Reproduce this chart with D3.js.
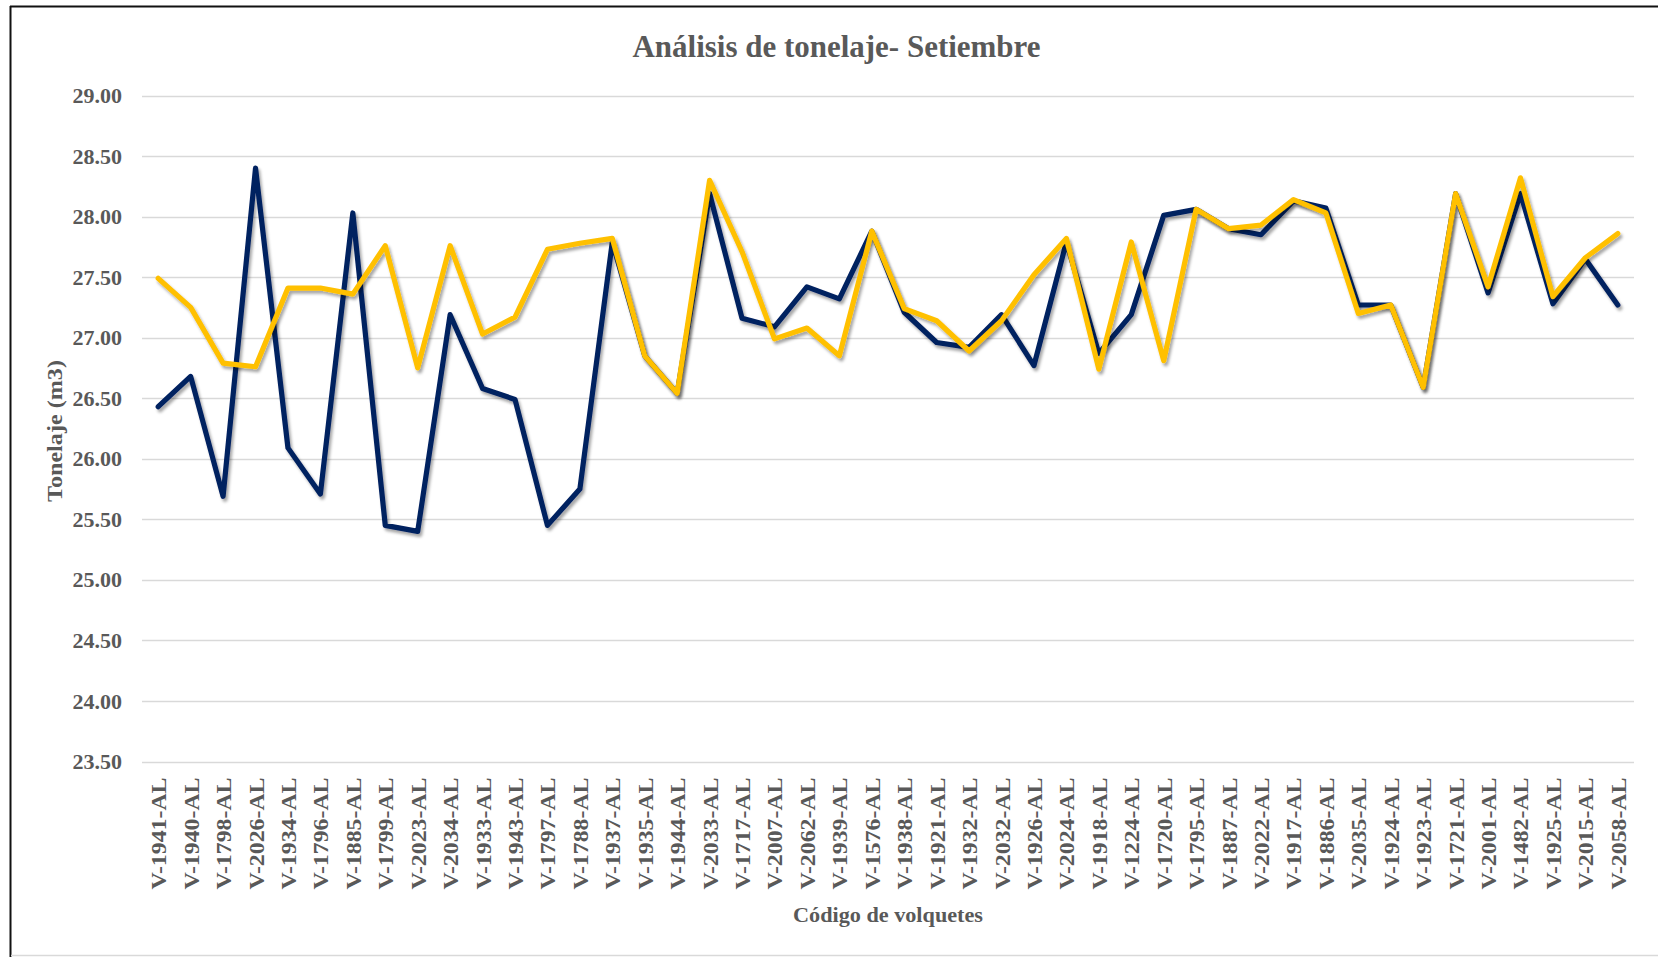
<!DOCTYPE html>
<html>
	<head>
		<meta charset="utf-8">
		<title>Análisis de tonelaje- Setiembre</title>
		<script src="https://d3js.org/d3.v7.min.js" charset="utf-8"></script>
		<style>
			body { margin: 0; background: #fff; }
			svg { display: block; }
			.txt {
				font-family: "Liberation Serif", "Times New Roman", serif;
				font-weight: bold;
				fill: #595959;
			}
			.grid line { stroke: #d9d9d9; stroke-width: 1.4px; }
			.serie { fill: none; stroke-width: 5.2px; stroke-linejoin: round; stroke-linecap: round; }
		</style>
	</head>
	<body>
		<div id="box"></div>
		<script>
			var codigos = ["V-1941-AL","V-1940-AL","V-1798-AL","V-2026-AL","V-1934-AL","V-1796-AL","V-1885-AL","V-1799-AL","V-2023-AL","V-2034-AL",
				"V-1933-AL","V-1943-AL","V-1797-AL","V-1788-AL","V-1937-AL","V-1935-AL","V-1944-AL","V-2033-AL","V-1717-AL","V-2007-AL",
				"V-2062-AL","V-1939-AL","V-1576-AL","V-1938-AL","V-1921-AL","V-1932-AL","V-2032-AL","V-1926-AL","V-2024-AL","V-1918-AL",
				"V-1224-AL","V-1720-AL","V-1795-AL","V-1887-AL","V-2022-AL","V-1917-AL","V-1886-AL","V-2035-AL","V-1924-AL","V-1923-AL",
				"V-1721-AL","V-2001-AL","V-1482-AL","V-1925-AL","V-2015-AL","V-2058-AL"];

			// serie azul
			var serieAzul = [26.43,26.68,25.69,28.40,26.09,25.71,28.03,25.45,25.40,27.19,
				26.58,26.49,25.45,25.75,27.79,26.85,26.54,28.19,27.16,27.09,
				27.42,27.32,27.88,27.21,26.96,26.92,27.19,26.77,27.79,26.87,
				27.19,28.01,28.06,27.90,27.85,28.13,28.07,27.27,27.27,26.59,
				28.19,27.37,28.19,27.28,27.65,27.27];

			// serie amarilla
			var serieAmarilla = [27.49,27.25,26.79,26.76,27.41,27.41,27.36,27.76,26.75,27.76,
				27.03,27.17,27.73,27.78,27.82,26.85,26.54,28.30,27.71,26.99,
				27.08,26.85,27.88,27.24,27.14,26.89,27.14,27.52,27.82,26.74,
				27.79,26.81,28.06,27.90,27.93,28.14,28.03,27.20,27.27,26.59,
				28.19,27.42,28.32,27.34,27.66,27.86];

			var ticksY = [23.5,24,24.5,25,25.5,26,26.5,27,27.5,28,28.5,29];

			var W = 1658, H = 957;
			var svg = d3.select('#box').append('svg').attr('width', W).attr('height', H);
			svg.append('rect').attr('width', W).attr('height', H).attr('fill', '#fff');

			// sombra de las lineas
			var defs = svg.append('defs');
			defs.append('filter').attr('id', 'sombra')
				.attr('x', '-5%').attr('y', '-5%').attr('width', '110%').attr('height', '110%')
				.append('feDropShadow')
				.attr('dx', 2).attr('dy', 3).attr('stdDeviation', 1.6)
				.attr('flood-color', '#000').attr('flood-opacity', 0.35);

			// marco
			svg.append('line').attr('x1', 10).attr('x2', W).attr('y1', 6.5).attr('y2', 6.5).attr('stroke', '#111').attr('stroke-width', 2);
			svg.append('line').attr('x1', 10.5).attr('x2', 10.5).attr('y1', 6).attr('y2', H).attr('stroke', '#111').attr('stroke-width', 2);
			svg.append('line').attr('x1', 11).attr('x2', W).attr('y1', 955.5).attr('y2', 955.5).attr('stroke', '#d9d9d9').attr('stroke-width', 1.5);

			var x = d3.scalePoint().domain(codigos).range([142, 1634]).padding(0.5);
			var y = d3.scaleLinear().domain([23.5, 29]).range([761.5, 95.5]);

			// lineas de cuadricula
			svg.append('g').attr('class', 'grid').selectAll('line')
				.data(ticksY).enter().append('line')
				.attr('x1', 142).attr('x2', 1634)
				.attr('y1', d => Math.round(y(d)) + 0.5).attr('y2', d => Math.round(y(d)) + 0.5);

			// eje y
			var ejeY = svg.append('g').attr('transform', 'translate(142,0)')
				.call(d3.axisLeft(y).tickValues(ticksY).tickFormat(d3.format('.2f')).tickSize(0).tickPadding(20));
			ejeY.select('.domain').remove();
			ejeY.selectAll('text').attr('class', 'txt').attr('font-size', 22).attr('fill', null);

			// eje x
			var ejeX = svg.append('g').attr('transform', 'translate(0,761.5)')
				.call(d3.axisBottom(x).tickSize(0));
			ejeX.select('.domain').remove();
			ejeX.selectAll('text')
				.attr('class', 'txt').attr('font-size', 22).attr('fill', null)
				.attr('text-anchor', 'end')
				.attr('textLength', 112).attr('lengthAdjust', 'spacingAndGlyphs')
				.attr('transform', 'rotate(-90)')
				.attr('x', -16).attr('y', 0).attr('dy', '0.34em');

			// lineas
			var linea = d3.line().x((d, i) => x(codigos[i])).y(d => y(d));
			svg.append('path').datum(serieAzul).attr('class', 'serie')
				.attr('stroke', '#002060').attr('filter', 'url(#sombra)').attr('d', linea);
			svg.append('path').datum(serieAmarilla).attr('class', 'serie')
				.attr('stroke', '#FFC000').attr('filter', 'url(#sombra)').attr('d', linea);

			// titulos
			svg.append('text').attr('class', 'txt')
				.attr('x', 836.5).attr('y', 57).attr('text-anchor', 'middle')
				.attr('font-size', 32).attr('textLength', 408).attr('lengthAdjust', 'spacingAndGlyphs')
				.text('Análisis de tonelaje- Setiembre');

			svg.append('text').attr('class', 'txt')
				.attr('x', 888).attr('y', 922).attr('text-anchor', 'middle')
				.attr('font-size', 22).attr('textLength', 190).attr('lengthAdjust', 'spacingAndGlyphs')
				.text('Código de volquetes');

			svg.append('text').attr('class', 'txt')
				.attr('transform', 'translate(62,431) rotate(-90)').attr('text-anchor', 'middle')
				.attr('font-size', 22).attr('textLength', 142).attr('lengthAdjust', 'spacingAndGlyphs')
				.text('Tonelaje (m3)');
		</script>
	</body>
</html>
